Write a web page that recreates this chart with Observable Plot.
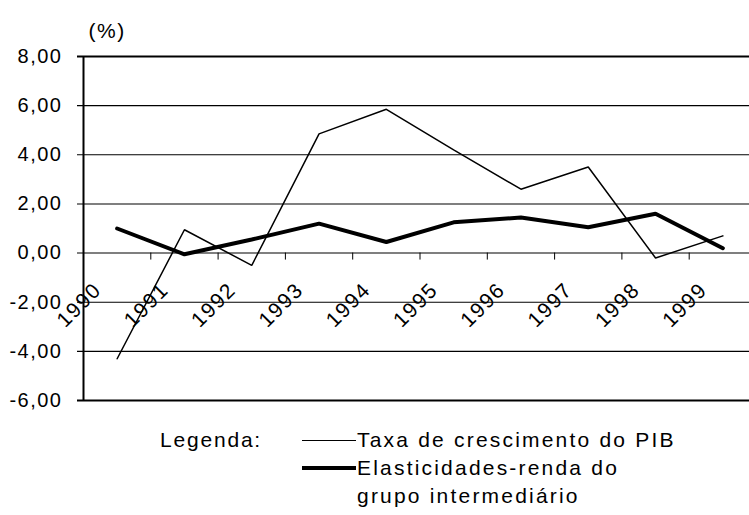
<!DOCTYPE html>
<html>
<head>
<meta charset="utf-8">
<script src="https://cdn.jsdelivr.net/npm/d3@7"></script>
<script src="https://cdn.jsdelivr.net/npm/@observablehq/plot@0.6"></script>
<style>
  html, body { margin: 0; padding: 0; background: #fff; }
  #wrap { width: 749px; height: 515px; position: relative; overflow: hidden;
          font-family: "Liberation Sans", Arial, Helvetica, sans-serif; color: #000; }
  #legend { position: absolute; left: 0; top: 420px; width: 749px; height: 95px;
            font-size: 21px; letter-spacing: 2.2px; }
  #legend .lab { position: absolute; left: 160px; top: 6px; line-height: 28px; letter-spacing: 1.8px; }
  #legend .txt { position: absolute; left: 357px; top: 6px; line-height: 28px; }
  #legend .sw { position: absolute; left: 302px; width: 54px; background: #000; }
</style>
</head>
<body>
<div id="wrap">
  <div id="chart"></div>
  <div id="legend">
    <div class="lab">Legenda:</div>
    <div class="sw" style="top:19.5px;height:1.5px"></div>
    <div class="sw" style="top:46px;height:4px"></div>
    <div class="txt">Taxa de crescimento do PIB<br>Elasticidades-renda do<br>grupo intermediário</div>
  </div>
</div>
<script>
const years = [1990, 1991, 1992, 1993, 1994, 1995, 1996, 1997, 1998, 1999];
const pib = [-4.3, 0.95, -0.5, 4.85, 5.85, 4.2, 2.6, 3.5, -0.2, 0.7];
const elasticidades = [1.0, -0.05, 0.55, 1.2, 0.45, 1.25, 1.45, 1.05, 1.6, 0.2];
const yTicks = [8, 6, 4, 2, 0, -2, -4, -6];
const seriesNames = ["Taxa de crescimento do PIB", "Elasticidades-renda do grupo intermediário"];

const fmt = d => d.toFixed(2).replace(".", ",");
const rowsPib = years.map((y, i) => ({year: y, value: pib[i]}));
const rowsEl = years.map((y, i) => ({year: y, value: elasticidades[i]}));
const boundaries = years.slice(0, -1).map(y => y + 0.5);
const xStart = years[0] - 0.5;
const xEnd = years[years.length - 1] + 0.5;

const chart = Plot.plot({
  width: 749,
  height: 420,
  marginTop: 56,
  marginBottom: 20,
  marginLeft: 83,
  marginRight: 0,
  style: {
    fontFamily: '"Liberation Sans", Arial, Helvetica, sans-serif',
    fontSize: "20px",
    letterSpacing: "1.5px",
    background: "#fff",
    color: "#000",
    overflow: "visible"
  },
  x: {type: "linear", domain: [xStart, xEnd], range: [83, 756], axis: null},
  y: {domain: [-6, 8], axis: null},
  marks: [
    Plot.ruleY(yTicks.filter(d => d !== 8 && d !== -6), {stroke: "#000", strokeWidth: 1.1, insetLeft: -6}),
    Plot.ruleY([8, -6], {stroke: "#000", strokeWidth: 2, insetLeft: -6}),
    Plot.ruleX([xStart], {stroke: "#000", strokeWidth: 2}),
    Plot.ruleX(boundaries, {y1: 0, y2: 0, insetBottom: -7, stroke: "#000", strokeWidth: 1}),
    Plot.axisY({ticks: yTicks, tickFormat: fmt, tickSize: 0, tickPadding: 21, label: null, fontSize: 20}),
    Plot.text(years, {x: d => d, y: 0, text: d => String(d), rotate: -45, dx: -38, dy: 52,
      textAnchor: "middle", lineAnchor: "middle", fontSize: 21}),
    Plot.text(["(%)"], {frameAnchor: "top-left", dx: 5, dy: -33, textAnchor: "start", fontSize: 21}),
    Plot.line(rowsPib, {x: "year", y: "value", stroke: "#000", strokeWidth: 1.5, strokeLinejoin: "miter"}),
    Plot.line(rowsEl, {x: "year", y: "value", stroke: "#000", strokeWidth: 4, strokeLinejoin: "miter"})
  ]
});
document.getElementById("chart").appendChild(chart);
</script>
</body>
</html>
